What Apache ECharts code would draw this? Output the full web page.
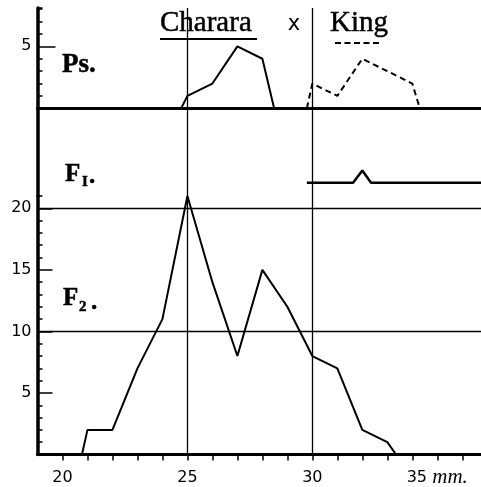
<!DOCTYPE html>
<html lang="en">
<head>
<meta charset="UTF-8" />
<title>Charara x King</title>
<script type="text/javascript" src="https://cdn.jsdelivr.net/npm/echarts@6/dist/echarts.min.js"></script>
<style>html,body{margin:0;padding:0;background:#fff}</style>
</head>
<body>
<div id="main" style="width:481px;height:487px"></div>
<script type="text/javascript">
// Ps. (parents) - length in mm, count
var psCharara = [[24.75,0],[25,1],[26,2],[27,5],[28,4],[28.47,0]];
var psKing = [[29.78,0],[30,2],[31,1],[32,4],[33,3],[34,2],[34.3,0]];
// F1
var f1 = [[29.78,0],[31.63,0],[32,1],[32.35,0],[36.75,0]];
// F2
var f2 = [[20.78,0],[21,2],[22,2],[23,7],[24,11],[25,21],[26,14],[27,8],[28,15],[29,12],[30,8],[31,7],[32,2],[33,1],[33.35,0]];
// tick labels
var xTickLabels = ['20','25','30','35'];
var f2TickLabels = ['5','10','15','20'];
var psTickLabels = ['5'];
// reference lines
var refX = [25, 30];
var f2RefY = [10, 20];

var X_MIN = 19, X_MAX = 36.75;
var black = '#000';

var myChart = echarts.init(document.getElementById('main'));

function refLines(xs, ys) {
    var d = [];
    xs.forEach(function (v) { d.push({ xAxis: v }); });
    (ys || []).forEach(function (v) { d.push({ yAxis: v }); });
    return {
        silent: true,
        symbol: ['none', 'none'],
        label: { show: false },
        lineStyle: { color: black, width: 1.3, type: 'solid' },
        data: d
    };
}

function hiddenX(i) {
    return { type: 'value', gridIndex: i, min: X_MIN, max: X_MAX, show: false };
}

function grid(top, height) {
    // fixed pixel boxes, labels may sit at the canvas edge
    return { left: 37.5, right: 0, top: top, height: height, outerBoundsMode: 'none', containLabel: false };
}

// serif heading / panel labels
function txt(s, x, y, font, align) {
    return {
        type: 'text', x: x, y: y,
        style: { text: s, font: font, fill: black, stroke: black, lineWidth: 0.5, align: align || 'left', verticalAlign: 'middle' }
    };
}

var options = {
    animation: false,
    backgroundColor: '#fff',
    grid: [
        grid(8, 100.3),      // Ps.
        grid(108.3, 87.7),   // F1
        grid(196, 258.5),    // F2
        grid(208.3, 246.2),  // F2 long ticks
        grid(46.3, 62)       // Ps long tick
    ],
    xAxis: [
        {
            type: 'value', gridIndex: 0, min: X_MIN, max: X_MAX,
            axisLine: { show: true, onZero: false, lineStyle: { color: black, width: 3 } },
            axisTick: { show: false }, axisLabel: { show: false }, splitLine: { show: false }
        },
        hiddenX(1),
        {
            type: 'value', gridIndex: 2, min: X_MIN, max: X_MAX, interval: 1,
            axisLine: { show: true, onZero: false, lineStyle: { color: black, width: 3 } },
            axisTick: { show: true, inside: false, length: 6, lineStyle: { color: black, width: 1.5 } },
            splitLine: { show: false },
            axisLabel: {
                margin: 14,
                showMinLabel: false, showMaxLabel: false,
                formatter: function (v) {
                    var s = String(v);
                    if (xTickLabels.indexOf(s) < 0) return '';
                    if (s === '35') return '{n|35}{u| mm.}';
                    return '{n|' + s + '}';
                },
                rich: {
                    n: { fontFamily: 'DejaVu Sans', fontSize: 16, lineHeight: 18, color: black },
                    u: { fontFamily: 'Liberation Serif', fontStyle: 'italic', fontSize: 21, lineHeight: 18, color: black }
                }
            }
        },
        hiddenX(3),
        hiddenX(4)
    ],
    yAxis: [
        {
            type: 'value', gridIndex: 0, min: 0, max: 8.1, interval: 1,
            axisLine: { show: true, lineStyle: { color: black, width: 3.5 } },
            axisTick: { show: true, inside: true, length: 5, lineStyle: { color: black, width: 1.5 } },
            axisLabel: { show: false }, splitLine: { show: false }
        },
        {
            type: 'value', gridIndex: 1, min: -1.08, max: 6.05,
            axisLine: { show: true, lineStyle: { color: black, width: 3.5 } },
            axisTick: { show: false }, axisLabel: { show: false }, splitLine: { show: false }
        },
        {
            type: 'value', gridIndex: 2, min: 0, max: 21, interval: 1,
            axisLine: { show: true, lineStyle: { color: black, width: 3.5 } },
            axisTick: { show: true, inside: true, length: 5, lineStyle: { color: black, width: 1.5 } },
            axisLabel: { show: false }, splitLine: { show: false }
        },
        {
            type: 'value', gridIndex: 3, min: 0, max: 20, interval: 5,
            axisLine: { show: false },
            axisTick: { show: true, inside: true, length: 15, lineStyle: { color: black, width: 1.5 } },
            splitLine: { show: false },
            axisLabel: {
                margin: 6, color: black, fontFamily: 'DejaVu Sans', fontSize: 16,
                formatter: function (v) { return f2TickLabels.indexOf(String(v)) >= 0 ? v : ''; }
            }
        },
        {
            type: 'value', gridIndex: 4, min: 0, max: 5, interval: 5,
            axisLine: { show: false },
            axisTick: { show: true, inside: true, length: 18, lineStyle: { color: black, width: 1.5 } },
            splitLine: { show: false },
            axisLabel: {
                margin: 6, color: black, fontFamily: 'DejaVu Sans', fontSize: 16,
                formatter: function (v) { return psTickLabels.indexOf(String(v)) >= 0 ? v : ''; }
            }
        }
    ],
    series: [
        {
            name: 'Charara', type: 'line', xAxisIndex: 0, yAxisIndex: 0,
            data: psCharara, symbol: 'none',
            lineStyle: { color: black, width: 2 },
            markLine: refLines(refX)
        },
        {
            name: 'King', type: 'line', xAxisIndex: 0, yAxisIndex: 0,
            data: psKing, symbol: 'none',
            lineStyle: { color: black, width: 2, type: [6, 4] }
        },
        {
            name: 'F1', type: 'line', xAxisIndex: 1, yAxisIndex: 1,
            data: f1, symbol: 'none',
            lineStyle: { color: black, width: 2.5 },
            markLine: refLines(refX)
        },
        {
            name: 'F2', type: 'line', xAxisIndex: 2, yAxisIndex: 2,
            data: f2, symbol: 'none',
            lineStyle: { color: black, width: 2 },
            markLine: refLines(refX, f2RefY)
        }
    ],
    graphic: [
        txt('Charara', 160, 23.4, 'normal 29px "Liberation Serif"'),
        { type: 'line', shape: { x1: 160, y1: 39, x2: 257, y2: 39 }, style: { stroke: black, lineWidth: 2 } },
        { type: 'text', x: 294, y: 25, style: { text: 'x', font: 'normal 21px "DejaVu Sans"', fill: black, align: 'center', verticalAlign: 'middle' } },
        txt('King', 330, 23.4, 'normal 29px "Liberation Serif"'),
        { type: 'line', shape: { x1: 335, y1: 43, x2: 380, y2: 43 }, style: { stroke: black, lineWidth: 2, lineDash: [6, 3.5] } },

        txt('Ps.', 62, 65, 'bold 27px "Liberation Serif"'),

        txt('F', 65, 175, 'bold 25px "Liberation Serif"'),
        txt('I', 82, 182, 'bold 15px "Liberation Serif"'),
        txt('.', 89, 177, 'bold 25px "Liberation Serif"'),

        txt('F', 63, 298.7, 'bold 25px "Liberation Serif"'),
        txt('2', 79, 306.7, 'bold 15px "Liberation Serif"'),
        txt('.', 91, 303, 'bold 25px "Liberation Serif"')
    ]
};

myChart.setOption(options);
</script>
</body>
</html>
